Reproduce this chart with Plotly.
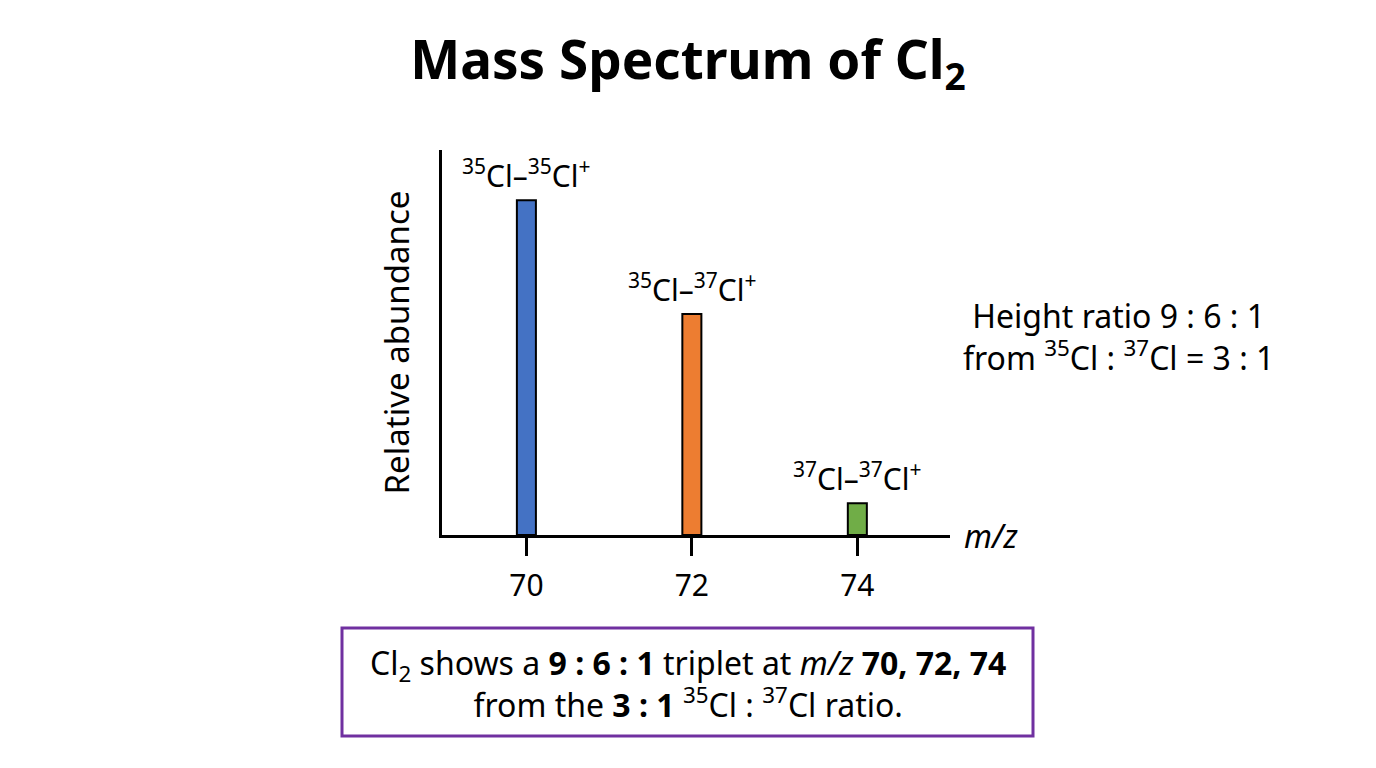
import plotly.graph_objects as go

mz = [70, 72, 74]
abundance = [100, 66, 9.5]
ion_labels = ["<sup>35</sup>Cl–<sup>35</sup>Cl<sup>+</sup>",
              "<sup>35</sup>Cl–<sup>37</sup>Cl<sup>+</sup>",
              "<sup>37</sup>Cl–<sup>37</sup>Cl<sup>+</sup>"]
bar_colors = ["#4472C4", "#ED7D31", "#70AD47"]
tick_vals = [70, 72, 74]
tick_text = ["70", "72", "74"]

FONT = "Noto Sans"

# plot area in pixels
L, R, T, B = 442, 950, 150, 535
W, H = R - L, B - T


def px(x):
    return (x - L) / W


def py(y):
    return (B - y) / H


fig = go.Figure()
fig.add_trace(go.Bar(
    x=mz, y=abundance, width=0.23,
    marker=dict(color=bar_colors, line=dict(color="black", width=2)),
    hoverinfo="skip", showlegend=False,
))

for xv, yv, lab in zip(mz, abundance, ion_labels):
    fig.add_annotation(x=xv, y=yv, text=lab, showarrow=False, yanchor="bottom",
                       yshift=2, font=dict(family=FONT, size=30, color="black"))

fig.add_annotation(x=1.0, y=0, xref="paper", yref="y", text="<i>m/z</i>", showarrow=False,
                   xanchor="left", xshift=12, font=dict(family=FONT, size=32, color="black"))

fig.add_annotation(x=px(1118), y=py(336), xref="paper", yref="paper",
                   text="Height ratio 9 : 6 : 1<br>from <sup>35</sup>Cl : <sup>37</sup>Cl = 3 : 1",
                   showarrow=False, xanchor="center", yanchor="middle", align="center",
                   font=dict(family=FONT, size=32, color="black"))

fig.add_shape(type="rect", xref="paper", yref="paper",
              x0=px(342), x1=px(1033), y0=py(736), y1=py(628),
              line=dict(color="#7030A0", width=3), fillcolor="white")

fig.add_annotation(x=px(688), y=py(683), xref="paper", yref="paper",
                   text="Cl<sub>2</sub> shows a <b>9 : 6 : 1</b> triplet at <i>m/z</i> <b>70, 72, 74</b><br>"
                        "from the <b>3 : 1</b> <sup>35</sup>Cl : <sup>37</sup>Cl ratio.",
                   showarrow=False, xanchor="center", yanchor="middle", align="center",
                   font=dict(family=FONT, size=32, color="black"))

fig.update_layout(
    width=1376, height=768,
    margin=dict(l=L, r=1376 - R, t=T, b=768 - B, autoexpand=False),
    paper_bgcolor="white", plot_bgcolor="white",
    title=dict(text="<b>Mass Spectrum of Cl<sub>2</sub></b>", x=688 / 1376, xanchor="center",
               y=1 - 60 / 768, yanchor="middle", font=dict(family=FONT, size=53, color="black")),
    xaxis=dict(range=[68.98, 75.12], tickvals=tick_vals, ticktext=tick_text,
               showline=True, linecolor="black", linewidth=3, ticks="outside",
               ticklen=18, tickwidth=3, tickcolor="black", showgrid=False, zeroline=False,
               ticklabelstandoff=4,
               tickfont=dict(family=FONT, size=30, color="black")),
    yaxis=dict(range=[0, 115], showline=True, linecolor="black", linewidth=3,
               showticklabels=False, ticks="", showgrid=False, zeroline=False,
               title=dict(text="Relative abundance", standoff=20,
                          font=dict(family=FONT, size=33, color="black"))),
    font=dict(family=FONT),
)

fig.write_html("out.html")
